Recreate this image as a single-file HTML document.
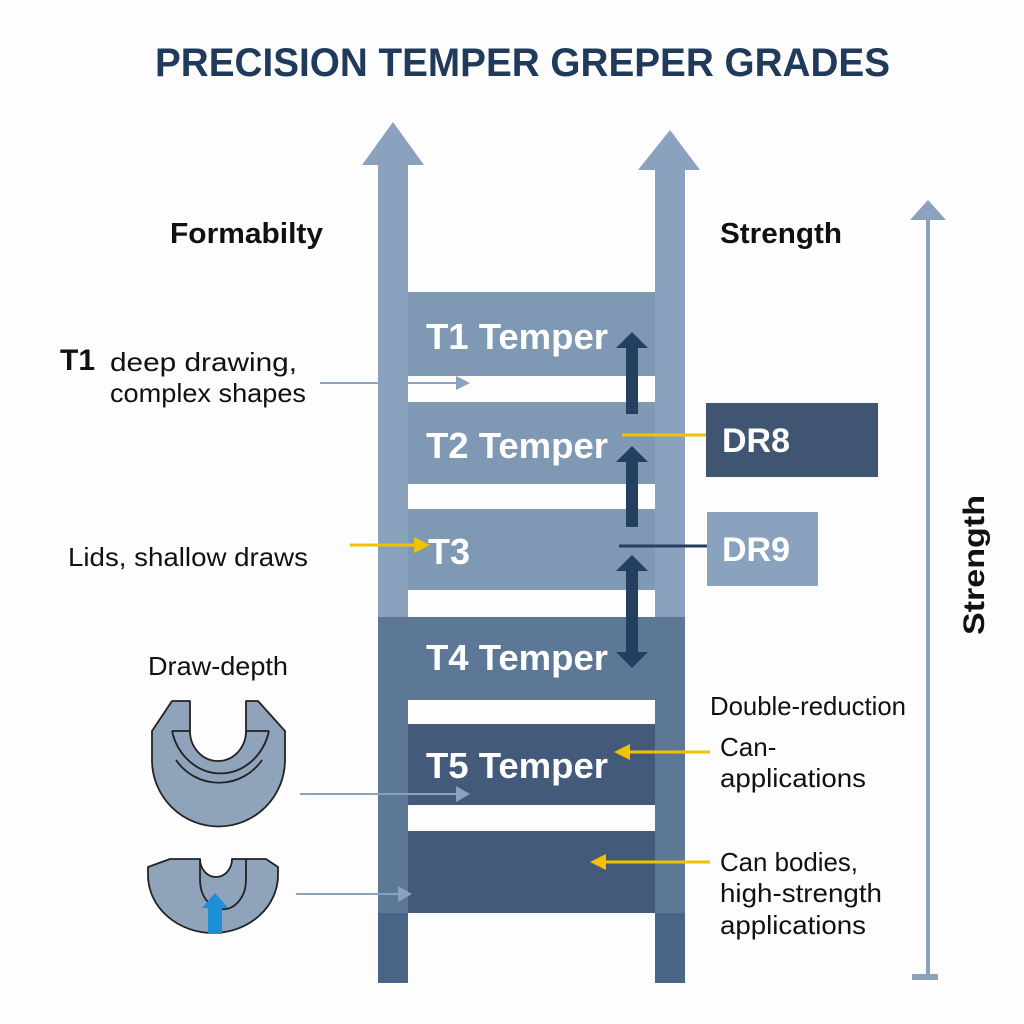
<!DOCTYPE html>
<html><head><meta charset="utf-8"><style>
body{margin:0;background:#fff}
svg{display:block}
text{font-family:"Liberation Sans",sans-serif}
.w{fill:#fff;font-weight:bold;font-size:36px}
.b{fill:#111;font-size:26px}
</style></head><body>
<svg width="1024" height="1024" viewBox="0 0 1024 1024" xmlns="http://www.w3.org/2000/svg">
<rect width="1024" height="1024" fill="#fdfdfd"/>
<text x="155" y="76" font-size="40" font-weight="bold" fill="#1f3a5a" textLength="735" lengthAdjust="spacingAndGlyphs">PRECISION TEMPER GREPER GRADES</text>
<rect x="408" y="292" width="247" height="84" fill="#7f98b4"/>
<rect x="408" y="402" width="247" height="82" fill="#7f98b4"/>
<rect x="408" y="509" width="247" height="81" fill="#7f98b4"/>
<rect x="408" y="617" width="247" height="83" fill="#5d7897"/>
<rect x="408" y="724" width="247" height="81" fill="#435a7a"/>
<rect x="408" y="831" width="247" height="82" fill="#435a7a"/>
<polygon points="393,122 424,165 408,165 408,617 378,617 378,165 362,165" fill="#8aa2bd"/>
<rect x="378" y="617" width="30" height="296" fill="#5d7897"/>
<rect x="378" y="913" width="30" height="70" fill="#4a6485"/>
<polygon points="670,130 700,170 685,170 685,617 655,617 655,170 638,170" fill="#8aa2bd"/>
<rect x="655" y="617" width="30" height="296" fill="#5d7897"/>
<rect x="655" y="913" width="30" height="70" fill="#4a6485"/>
<text class="w" x="426" y="349" textLength="182" lengthAdjust="spacingAndGlyphs">T1 Temper</text>
<text class="w" x="426" y="458" textLength="182" lengthAdjust="spacingAndGlyphs">T2 Temper</text>
<text class="w" x="428" y="564">T3</text>
<text class="w" x="426" y="670" textLength="182" lengthAdjust="spacingAndGlyphs">T4 Temper</text>
<text class="w" x="426" y="778" textLength="182" lengthAdjust="spacingAndGlyphs">T5 Temper</text>
<g fill="#253f60">
<polygon points="632,332 648,348 638,348 638,414 626,414 626,348 616,348"/>
<polygon points="632,446 648,462 638,462 638,527 626,527 626,462 616,462"/>
<polygon points="632,555 648,571 638,571 638,652 648,652 632,668 616,652 626,652 626,571 616,571"/>
</g>
<rect x="706" y="403" width="172" height="74" fill="#3f5571"/>
<text x="722" y="452" font-size="34" font-weight="bold" fill="#fff">DR8</text>
<line x1="622" y1="435" x2="706" y2="435" stroke="#f2c200" stroke-width="3"/>
<rect x="707" y="512" width="111" height="74" fill="#8aa2bd"/>
<text x="722" y="561" font-size="34" font-weight="bold" fill="#fff">DR9</text>
<line x1="619" y1="546" x2="707" y2="546" stroke="#253f60" stroke-width="3"/>
<polygon points="928,200 946,220 930,220 930,976 926,976 926,220 910,220" fill="#8aa2bd"/>
<rect x="912" y="974" width="26" height="6" fill="#8aa2bd"/>
<text transform="translate(984,635) rotate(-90)" font-size="30" font-weight="bold" fill="#111" textLength="140" lengthAdjust="spacingAndGlyphs">Strength</text>
<text x="170" y="243" font-size="29" font-weight="bold" fill="#111" textLength="153" lengthAdjust="spacingAndGlyphs">Formabilty</text>
<text x="720" y="243" font-size="29" font-weight="bold" fill="#111" textLength="122" lengthAdjust="spacingAndGlyphs">Strength</text>
<text x="60" y="370" font-size="30" font-weight="bold" fill="#111">T1</text>
<text class="b" x="110" y="371" textLength="187" lengthAdjust="spacingAndGlyphs">deep drawing,</text>
<text class="b" x="110" y="402" textLength="196" lengthAdjust="spacingAndGlyphs">complex shapes</text>
<line x1="320" y1="383" x2="458" y2="383" stroke="#8aa2bd" stroke-width="2"/>
<polygon points="470,383 456,376 456,390" fill="#8aa2bd"/>
<text class="b" x="68" y="566" textLength="240" lengthAdjust="spacingAndGlyphs">Lids, shallow draws</text>
<line x1="350" y1="545" x2="416" y2="545" stroke="#f2c200" stroke-width="3"/>
<polygon points="430,545 414,537 414,553" fill="#f2c200"/>
<text class="b" x="148" y="675" textLength="140" lengthAdjust="spacingAndGlyphs">Draw-depth</text>
<line x1="300" y1="794" x2="458" y2="794" stroke="#8aa2bd" stroke-width="2"/>
<polygon points="470,794 456,786 456,802" fill="#8aa2bd"/>
<line x1="296" y1="894" x2="400" y2="894" stroke="#8aa2bd" stroke-width="2"/>
<polygon points="412,894 398,886 398,902" fill="#8aa2bd"/>
<text class="b" x="710" y="715" textLength="196" lengthAdjust="spacingAndGlyphs">Double-reduction</text>
<text class="b" x="720" y="756">Can-</text>
<text class="b" x="720" y="787" textLength="146" lengthAdjust="spacingAndGlyphs">applications</text>
<line x1="628" y1="752" x2="710" y2="752" stroke="#f2c200" stroke-width="3"/>
<polygon points="614,752 630,744 630,760" fill="#f2c200"/>
<text class="b" x="720" y="871" textLength="138" lengthAdjust="spacingAndGlyphs">Can bodies,</text>
<text class="b" x="720" y="902" textLength="162" lengthAdjust="spacingAndGlyphs">high-strength</text>
<text class="b" x="720" y="934" textLength="146" lengthAdjust="spacingAndGlyphs">applications</text>
<line x1="604" y1="862" x2="710" y2="862" stroke="#f2c200" stroke-width="3"/>
<polygon points="590,862 606,854 606,870" fill="#f2c200"/>
<g stroke="#222" stroke-width="1.8" stroke-linejoin="round">
<path d="M152,731 L172,701 L190,701 L190,731 A28,30 0 0 0 246,731 L246,701 L258,701 L285,731 L285,760 A66,66 0 0 1 152,760 Z" fill="#8fa3bb"/>
<path d="M172,731 A50,56 0 0 0 269,731" fill="none"/>
<path d="M176,760 A52,52 0 0 0 262,760" fill="none"/>
<path d="M190,731 L172,731 M246,731 L269,731" fill="none"/>
<path d="M148,867 L170,859 L200,859 A16,18 0 0 0 232,859 L266,859 L278,867 L278,875 A65,58 0 0 1 148,875 Z" fill="#8fa3bb"/>
<path d="M200,859 L200,880 A22,28 0 0 0 246,880 L246,859" fill="none"/>
</g>
<polygon points="215,893 228,908 222,908 222,934 208,934 208,908 202,908" fill="#1e8fd6"/>
</svg>
</body></html>
